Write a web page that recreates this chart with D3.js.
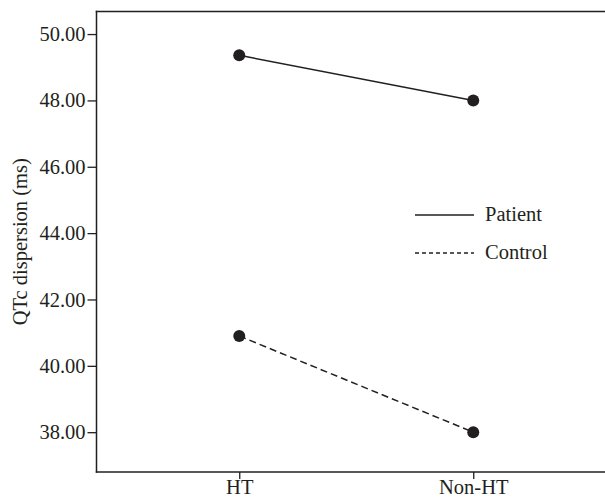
<!DOCTYPE html>
<html>
<head>
<meta charset="utf-8">
<script src="https://cdn.jsdelivr.net/npm/d3@7"></script>
<style>
  html, body { margin: 0; background: #fff; overflow: hidden; }
  svg { display: block; }
  text { font-family: "Liberation Serif", "DejaVu Serif", serif; fill: #231f20; }
</style>
</head>
<body>
<svg></svg>
<script>
let categories = ["HT", "Non-HT"];
let patientValues = [49.36, 48.00];
let controlValues = [40.90, 38.00];
let yTicks = [38, 40, 42, 44, 46, 48, 50];
let seriesNames = ["Patient", "Control"];

let svgWidth = 605, svgHeight = 497;
let plotLeft = 96.5, plotTop = 11.5, plotBottom = 472;
let fontSize = 20.5;
let ink = "#231f20";

let svg = d3.select("svg")
    .attr("width", svgWidth)
    .attr("height", svgHeight);

// x scale: the plot box runs off the right edge of the picture
let xScale = d3.scalePoint()
    .domain(categories)
    .range([plotLeft, 616])
    .padding(0.61);

let yScale = d3.scaleLinear()
    .domain([36.8, 50.68])
    .range([plotBottom, plotTop]);

// frame: left, top and bottom sides only (the right side is outside the picture)
let frame = [
    [plotLeft, plotTop, plotLeft, plotBottom],
    [plotLeft, plotTop, svgWidth, plotTop],
    [plotLeft, plotBottom, svgWidth, plotBottom]
];
svg.selectAll(".frame")
    .data(frame)
    .enter()
    .append("line")
    .attr("class", "frame")
    .attr("x1", d => d[0])
    .attr("y1", d => d[1])
    .attr("x2", d => d[2])
    .attr("y2", d => d[3])
    .attr("stroke", ink)
    .attr("stroke-width", 1.5)
    .attr("stroke-linecap", "square");

// y axis
let y_axis = d3.axisLeft(yScale)
    .tickValues(yTicks)
    .tickFormat(d3.format(".2f"))
    .tickSize(9)
    .tickPadding(2);

let gy = svg.append("g")
    .attr("transform", `translate(${plotLeft}, 0)`)
    .call(y_axis);
gy.select(".domain").remove();
gy.selectAll(".tick line").attr("stroke", ink).attr("stroke-width", 1.3);
gy.selectAll(".tick text")
    .attr("font-size", fontSize)
    .attr("font-family", "Liberation Serif, serif")
    .attr("fill", ink);

// x axis
let x_axis = d3.axisBottom(xScale)
    .tickSize(7)
    .tickPadding(0);

let gx = svg.append("g")
    .attr("transform", `translate(0, ${plotBottom})`)
    .call(x_axis);
gx.select(".domain").remove();
gx.selectAll(".tick line").attr("stroke", ink).attr("stroke-width", 1.3);
gx.selectAll(".tick text")
    .attr("font-size", fontSize)
    .attr("font-family", "Liberation Serif, serif")
    .attr("fill", ink);

// y axis title
svg.append("text")
    .attr("transform", `translate(27, ${(plotTop + plotBottom) / 2}) rotate(-90)`)
    .attr("text-anchor", "middle")
    .attr("font-size", fontSize)
    .text("QTc dispersion (ms)");

// lines and points
let series = [
    { name: seriesNames[0], values: patientValues, dash: null },
    { name: seriesNames[1], values: controlValues, dash: "7,4" }
];

let line = d3.line()
    .x((d, i) => xScale(categories[i]))
    .y(d => yScale(d));

series.forEach(s => {
    svg.append("path")
        .datum(s.values)
        .attr("d", line)
        .attr("fill", "none")
        .attr("stroke", ink)
        .attr("stroke-width", 1.5)
        .attr("stroke-dasharray", s.dash);

    svg.selectAll(null)
        .data(s.values)
        .enter()
        .append("circle")
        .attr("cx", (d, i) => xScale(categories[i]))
        .attr("cy", d => yScale(d))
        .attr("r", 6)
        .attr("fill", ink);
});

// legend
let legend = svg.append("g")
    .attr("transform", "translate(415, 215)");

let legendItems = legend.selectAll("g")
    .data(series)
    .enter()
    .append("g")
    .attr("transform", (d, i) => `translate(0, ${i * 38})`);

legendItems.append("line")
    .attr("x1", 0)
    .attr("x2", 59)
    .attr("stroke", ink)
    .attr("stroke-width", 1.3)
    .attr("stroke-dasharray", d => d.dash ? "4,3" : null);

legendItems.append("text")
    .attr("x", 70)
    .attr("y", 6)
    .attr("font-size", fontSize)
    .text(d => d.name);
</script>
</body>
</html>
